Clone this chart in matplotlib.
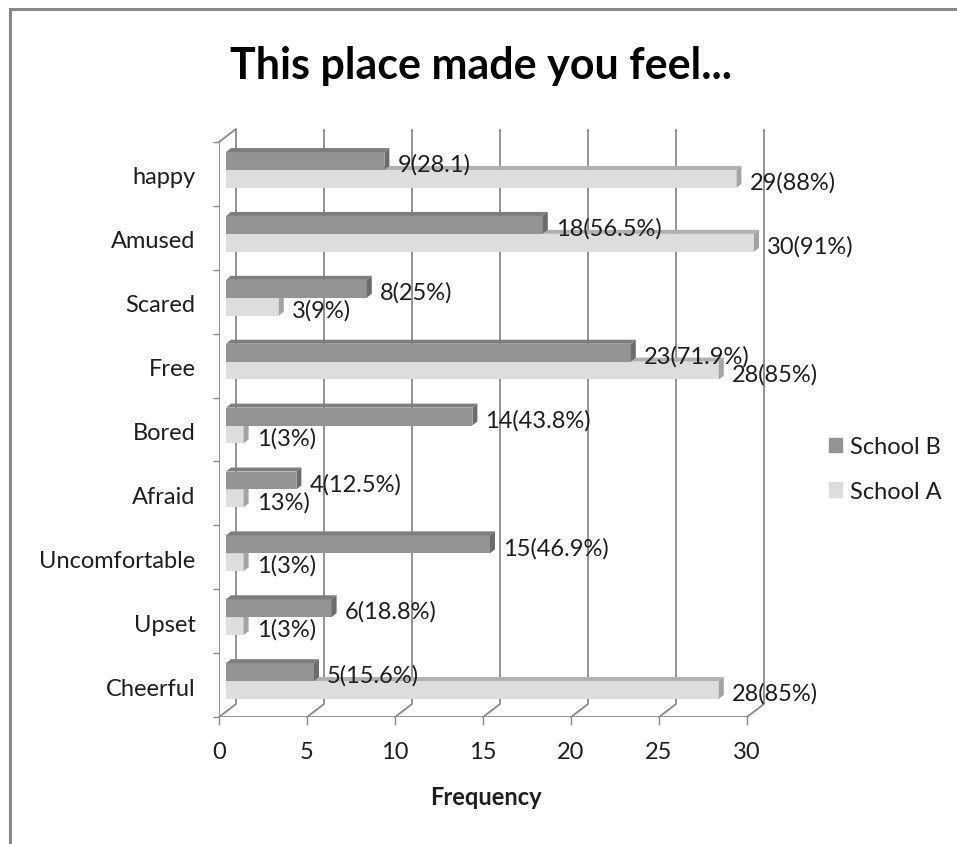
import matplotlib
matplotlib.use('Agg')
import matplotlib.pyplot as plt
from matplotlib.patches import Polygon, Rectangle, Patch
from matplotlib.transforms import ScaledTranslation

# data, top to bottom as in the chart
categories = ['happy', 'Amused', 'Scared', 'Free', 'Bored', 'Afraid',
              'Uncomfortable', 'Upset', 'Cheerful']
school_b = [9, 18, 8, 23, 14, 4, 15, 6, 5]
school_a = [29, 30, 3, 28, 1, 1, 1, 1, 28]
labels_b = ['9(28.1)', '18(56.5%)', '8(25%)', '23(71.9%)', '14(43.8%)',
            '4(12.5%)', '15(46.9%)', '6(18.8%)', '5(15.6%)']
labels_a = ['29(88%)', '30(91%)', '3(9%)', '28(85%)', '1(3%)',
            '13%)', '1(3%)', '1(3%)', '28(85%)']
x_ticks = [0, 5, 10, 15, 20, 25, 30]

plt.rcParams['font.family'] = ['Lato', 'DejaVu Sans']
TXT = '#1e1e1e'
GRID = '#8a8a8a'
FS = 17

fig = plt.figure(figsize=(9.57, 8.45), dpi=100)
# axes = front plane of the fake 3d box
ax = fig.add_axes([219 / 957, 127 / 845, 528 / 957, 575 / 845])
ax.set_xlim(0, 30)
ax.set_ylim(-0.5, len(categories) - 0.5)
for s in ax.spines.values():
    s.set_visible(False)


def shift(dx, dy):
    return ScaledTranslation(dx / 100, dy / 100, fig.dpi_scale_trans)


back_tr = ax.get_xaxis_transform() + shift(17, 13)
bar_tr = ax.transData + shift(7, 4)

# back wall gridlines and floor/wall edges
ax.vlines(x_ticks, 0, 1, transform=back_tr, color=GRID, lw=1.3, zorder=1, clip_on=False)
ax.plot([0, 0], [0, 1], transform=ax.get_xaxis_transform(), color=GRID, lw=1.3, zorder=1)
ax.plot([0, 30], [0, 0], transform=ax.get_xaxis_transform(), color=GRID, lw=1.3, zorder=1)
for x in x_ticks:
    ax.annotate('', xy=(x, 0), xycoords=ax.get_xaxis_transform(), xytext=(17, 13),
                textcoords='offset pixels',
                arrowprops=dict(arrowstyle='-', shrinkA=0, shrinkB=0, color=GRID, lw=1.3))
ax.annotate('', xy=(0, 1), xycoords=ax.get_xaxis_transform(), xytext=(17, 13),
            textcoords='offset pixels',
            arrowprops=dict(arrowstyle='-', shrinkA=0, shrinkB=0, color=GRID, lw=1.3))

# ticks
ypos = list(range(len(categories) - 1, -1, -1))
ax.set_yticks(ypos)
ax.set_yticklabels(categories, va='center')
ax.set_yticks([i - 0.5 for i in range(len(categories) + 1)], minor=True)
ax.tick_params(axis='y', which='major', length=0, pad=17, labelsize=FS, labelcolor=TXT)
ax.tick_params(axis='y', which='minor', length=4.5, width=1, color=GRID, direction='out')
for t in ax.get_yticklabels():
    t.set_transform(t.get_transform() + shift(0, -3))
ax.set_xticks(x_ticks)
ax.tick_params(axis='x', length=6, width=1, color=GRID, pad=11, labelsize=FS, labelcolor=TXT)

# bars with fake depth
h = 0.28
dx = 5 / (528 / 30)
dy = 4 / (575 / 9)


def bars3d(pos, vals, front, top, side, z):
    cont = ax.barh(pos, vals, height=h, color=front, zorder=z, clip_on=False)
    for p, y, v in zip(cont.patches, pos, vals):
        p.set_transform(bar_tr)
        yt = y + h / 2
        yb = y - h / 2
        ax.add_patch(Polygon([(0, yt), (v, yt), (v + dx, yt + dy), (dx, yt + dy)],
                             closed=True, transform=bar_tr, fc=top, ec='none', zorder=z,
                             clip_on=False))
        ax.add_patch(Polygon([(v, yb), (v + dx, yb + dy), (v + dx, yt + dy), (v, yt)],
                             closed=True, transform=bar_tr, fc=side, ec='none', zorder=z,
                             clip_on=False))


pos_b = [p + 0.14 for p in ypos]
pos_a = [p - 0.14 for p in ypos]
bars3d(pos_a, school_a, '#dddddd', '#b0b0b0', '#a3a3a3', 3)
bars3d(pos_b, school_b, '#939393', '#7d7d7d', '#6c6c6c', 4)

for y, v, t in zip(pos_b, school_b, labels_b):
    ax.annotate(t, xy=(v, y), xycoords=bar_tr, xytext=(13, -3), textcoords='offset pixels',
                ha='left', va='center', fontsize=FS, color=TXT, zorder=6)
for y, v, t in zip(pos_a, school_a, labels_a):
    ax.annotate(t, xy=(v, y), xycoords=bar_tr, xytext=(13, -3), textcoords='offset pixels',
                ha='left', va='center', fontsize=FS, color=TXT, zorder=6)

fig.text(481 / 957, 1 - 66 / 845, 'This place made you feel...', ha='center', va='center',
         fontsize=31, fontweight='bold', color='black')
fig.text(486 / 957, 1 - 798 / 845, 'Frequency', ha='center', va='center',
         fontsize=17, fontweight='bold', color=TXT)

handles = [Patch(color='#939393', label='School B'), Patch(color='#dddddd', label='School A')]
fig.legend(handles=handles, loc='center left', bbox_to_anchor=(829 / 957, 1 - 470 / 845),
           frameon=False, fontsize=FS, handlelength=0.55, handleheight=0.55,
           handletextpad=0.35, labelspacing=1.0, labelcolor=TXT,
           borderpad=0, borderaxespad=0)

# outer chart border
fig.patches.append(Rectangle((9.5 / 957, -0.1), 1.0, 1.1 - 9.5 / 845, transform=fig.transFigure,
                             fill=False, ec='#888888', lw=2.2))

fig.savefig('out.png', dpi=100)
